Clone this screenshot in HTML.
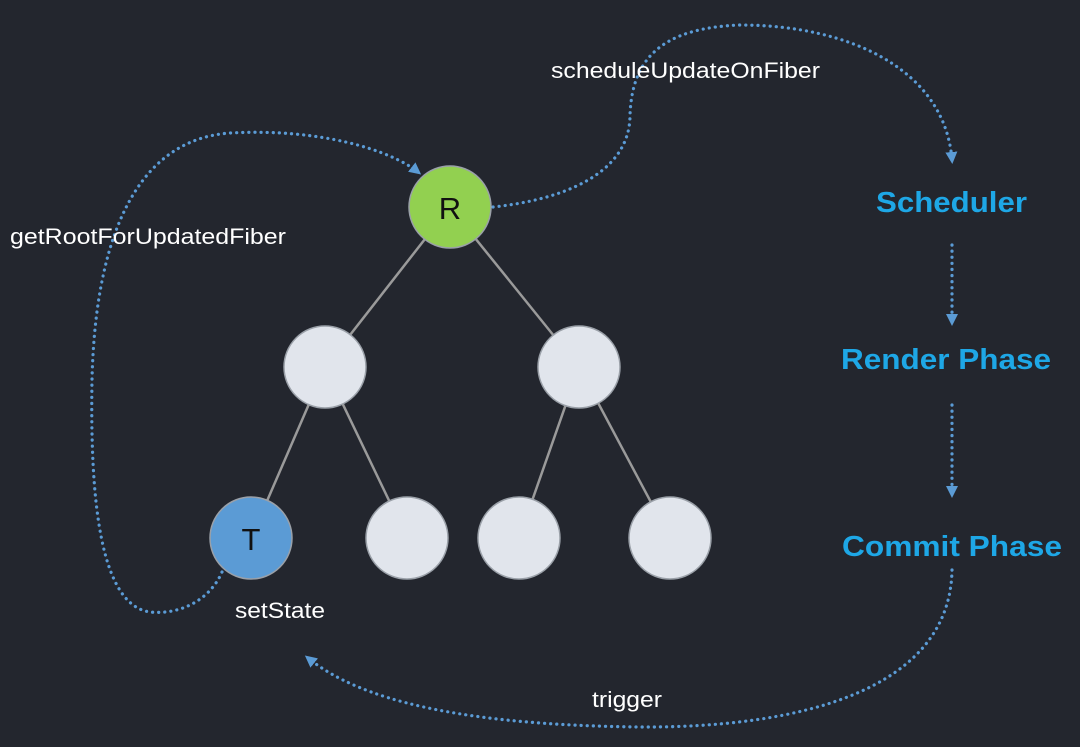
<!DOCTYPE html>
<html><head><meta charset="utf-8"><style>
html,body{margin:0;padding:0;background:#23262e;}
svg{display:block;}
</style></head><body>
<svg width="1080" height="747" viewBox="0 0 1080 747" xmlns="http://www.w3.org/2000/svg">
<rect width="1080" height="747" fill="#23262e"/>
<defs>
<marker id="a" markerWidth="14" markerHeight="14" refX="8" refY="6" orient="auto" markerUnits="userSpaceOnUse">
<path d="M0,0 L12,6 L0,12 Z" fill="#5b9bd5"/></marker>
</defs>
<g stroke="#9a9a9a" stroke-width="2.5">
<line x1="450" y1="207" x2="325" y2="367"/>
<line x1="450" y1="207" x2="579" y2="367"/>
<line x1="325" y1="367" x2="251" y2="538"/>
<line x1="325" y1="367" x2="407" y2="538"/>
<line x1="579" y1="367" x2="519" y2="538"/>
<line x1="579" y1="367" x2="670" y2="538"/>
</g>
<g fill="none" stroke="#5b9bd5" stroke-width="3.2" stroke-dasharray="0.1 6" stroke-linecap="round">
<path d="M222,572 C210,600 180,615 150,612 C100,605 90,500 92,380 C95,250 130,140 230,133 C320,128 390,150 418,172" marker-end="url(#a)"/>
<path d="M493,207 C560,200 630,175 630,115 C632,60 660,28 740,25 C850,25 945,70 952,160" marker-end="url(#a)"/>
<path d="M952,245 L952,322" marker-end="url(#a)"/>
<path d="M952,405 L952,494" marker-end="url(#a)"/>
<path d="M952,570 C950,690 800,728 640,727 C460,725 360,700 308,658" marker-end="url(#a)"/>
</g>
<g stroke="#9aa0a8" stroke-width="1.5">
<circle cx="450" cy="207" r="41" fill="#92d050"/>
<circle cx="325" cy="367" r="41" fill="#e1e5ec"/>
<circle cx="579" cy="367" r="41" fill="#e1e5ec"/>
<circle cx="251" cy="538" r="41" fill="#5b9bd5"/>
<circle cx="407" cy="538" r="41" fill="#e1e5ec"/>
<circle cx="519" cy="538" r="41" fill="#e1e5ec"/>
<circle cx="670" cy="538" r="41" fill="#e1e5ec"/>
</g>
<g font-family="Liberation Sans, sans-serif">
<text x="450" y="219" font-size="31" fill="#111" text-anchor="middle">R</text>
<text x="251" y="550" font-size="31" fill="#111" text-anchor="middle">T</text>
<text x="551" y="78" font-size="22" fill="#fff" textLength="269" lengthAdjust="spacingAndGlyphs">scheduleUpdateOnFiber</text>
<text x="10" y="244" font-size="22" fill="#fff" textLength="276" lengthAdjust="spacingAndGlyphs">getRootForUpdatedFiber</text>
<text x="235" y="618" font-size="22" fill="#fff" textLength="90" lengthAdjust="spacingAndGlyphs">setState</text>
<text x="592" y="707" font-size="22" fill="#fff" textLength="70" lengthAdjust="spacingAndGlyphs">trigger</text>
<text x="876" y="212" font-size="29" font-weight="bold" fill="#1ea7e6" textLength="151" lengthAdjust="spacingAndGlyphs">Scheduler</text>
<text x="841" y="369" font-size="29" font-weight="bold" fill="#1ea7e6" textLength="210" lengthAdjust="spacingAndGlyphs">Render Phase</text>
<text x="842" y="556" font-size="29" font-weight="bold" fill="#1ea7e6" textLength="220" lengthAdjust="spacingAndGlyphs">Commit Phase</text>
</g>
</svg>
</body></html>
